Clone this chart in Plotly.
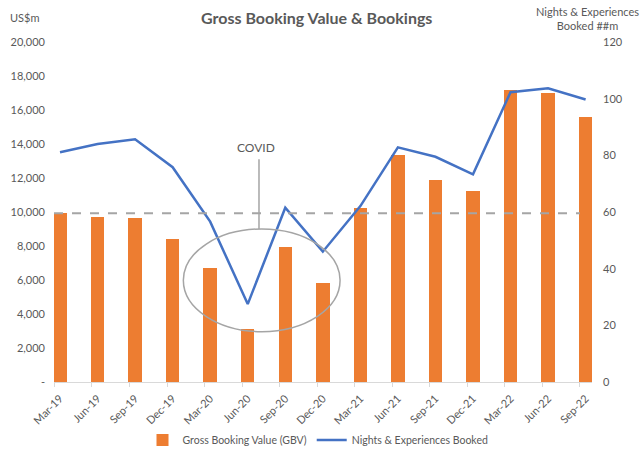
import plotly.graph_objects as go

quarters = ["Mar-19", "Jun-19", "Sep-19", "Dec-19", "Mar-20", "Jun-20", "Sep-20", "Dec-20",
            "Mar-21", "Jun-21", "Sep-21", "Dec-21", "Mar-22", "Jun-22", "Sep-22"]
gbv = [9920, 9730, 9630, 8430, 6720, 3120, 7920, 5850,
       10250, 13380, 11860, 11240, 17180, 16980, 15590]
nights = [81.1, 84.0, 85.7, 75.8, 56.6, 27.5, 61.5, 46.0,
          62.1, 82.8, 79.5, 73.3, 102.3, 103.7, 99.7]
left_ticks = [0, 2000, 4000, 6000, 8000, 10000, 12000, 14000, 16000, 18000, 20000]
left_text = ["-"] + [f"{v:,}" for v in left_ticks[1:]]
right_ticks = [0, 20, 40, 60, 80, 100, 120]
ref_level = gbv[0]

xs = list(range(len(quarters)))
FONT = "Lato"
GREY = "#595959"

# plot area in pixels: x 54..592, y 42..382
def px(x):
    return (x - 54) / 538

def py(y):
    return (382 - y) / 340

fig = go.Figure()
fig.add_trace(go.Bar(x=xs, y=gbv, name="Gross Booking Value (GBV)", marker_color="#ED7D31",
                     marker_line_width=0, width=0.36, yaxis="y"))
fig.add_trace(go.Scatter(x=xs, y=nights, name="Nights & Experiences Booked", mode="lines",
                         line=dict(color="#4472C4", width=2.5), yaxis="y2"))

fig.update_layout(
    width=640, height=455,
    margin=dict(l=54, r=48, t=42, b=73, autoexpand=False),
    plot_bgcolor="white", paper_bgcolor="white",
    font=dict(family=FONT, color=GREY, size=11),
    showlegend=True,
    legend=dict(orientation="h", x=px(318), xanchor="center",
                y=py(440), yanchor="middle", font=dict(size=10.5, color=GREY), itemwidth=30),
    xaxis=dict(range=[-0.16, 14.17], tickmode="array", tickvals=xs, ticktext=quarters,
               tickangle=-45, ticks="", showgrid=False, zeroline=False, automargin=False,
               showline=True, linecolor="#D9D9D9", linewidth=1, ticklabelstandoff=5,
               tickfont=dict(size=11, color=GREY),
               minor=dict(tickmode="array", tickvals=[i - 0.15 for i in xs], ticks="outside",
                          ticklen=4, tickcolor="#D9D9D9", showgrid=False)),
    yaxis=dict(range=[0, 20000], tickmode="array", tickvals=left_ticks, ticktext=left_text,
               showgrid=False, zeroline=False, showline=False, ticklabelstandoff=8,
               automargin=False, tickfont=dict(size=11, color=GREY)),
    yaxis2=dict(range=[0, 120], tickmode="array", tickvals=right_ticks, overlaying="y",
                side="right", showgrid=False, zeroline=False, showline=False, automargin=False,
                ticklabelstandoff=10, tickfont=dict(size=11, color=GREY)),
    bargap=0,
)

# reference dashed level line
fig.add_shape(type="line", xref="x", yref="y", x0=-0.16, x1=13.85, y0=ref_level, y1=ref_level,
              line=dict(color="#A5A5A5", width=2, dash="dash"))
# COVID ellipse and callout
fig.add_shape(type="circle", xref="x", yref="y", x0=3.285, x1=7.46, y0=2960, y1=9000,
              line=dict(color="#A5A5A5", width=1.5))
fig.add_shape(type="line", xref="x", yref="y", x0=5.3, x1=5.3, y0=9000, y1=13100,
              line=dict(color="#A5A5A5", width=1.5))
fig.add_annotation(text="COVID", x=5.22, y=13765, xref="x", yref="y", showarrow=False,
                   yanchor="middle", font=dict(size=12, color=GREY, family=FONT))

# titles
fig.add_annotation(text="<b>Gross Booking Value & Bookings</b>", xref="paper", yref="paper",
                   x=px(316), y=py(17), xanchor="center", yanchor="middle", showarrow=False,
                   font=dict(size=16, color=GREY, family=FONT))
fig.add_annotation(text="US$m", xref="paper", yref="paper", x=px(8), y=py(17),
                   xanchor="left", yanchor="middle", showarrow=False,
                   font=dict(size=11, color=GREY, family=FONT))
fig.add_annotation(text="Nights & Experiences<br>Booked ##m", xref="paper", yref="paper",
                   x=px(587), y=py(18.5), xanchor="center", yanchor="middle", align="center",
                   showarrow=False, font=dict(size=11, color=GREY, family=FONT))

fig.write_html("out.html", post_script="document.body.style.margin='0';",
               config={"displayModeBar": False})
